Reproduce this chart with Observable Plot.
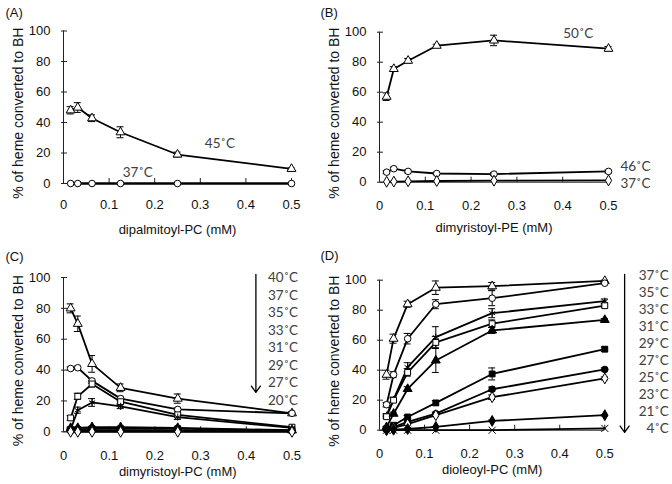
<!DOCTYPE html>
<html><head><meta charset="utf-8">
<script src="https://cdn.jsdelivr.net/npm/d3@7"></script>
<script src="https://cdn.jsdelivr.net/npm/@observablehq/plot@0.6"></script>
<style>
html,body{margin:0;padding:0;background:#fff;}
#chart{position:relative;width:672px;height:484px;overflow:hidden;background:#fff;}
#chart > div{position:absolute;}
#chart svg{overflow:visible;background:transparent;}
</style></head><body><div id="chart"></div>
<script>
// ---- data ----
const conc = [0.015625, 0.03125, 0.0625, 0.125, 0.25, 0.5];
const xTicks = [0, 0.1, 0.2, 0.3, 0.4, 0.5];
const yTicks = [0, 20, 40, 60, 80, 100];
const yTitle = "% of heme converted to BH";

// Panel A
const aTitle = "dipalmitoyl-PC (mM)";
const a45 = [48, 49.8, 42.8, 33.6, 19, 9.6];
const a45Err = [2.4, 3.2, 2.2, 3.6, 1.6, 0.6];
const a37 = [0, 0, 0, 0, 0, 0];
const a37Err = [0, 0, 0, 0, 0, 0];

// Panel B
const bTitle = "dimyristoyl-PE (mM)";
const b50 = [57, 75.5, 81, 91, 94.5, 89];
const b50Err = [2.5, 1.5, 1.5, 1, 3.5, 1.5];
const b46 = [6.7, 9, 7.2, 5.8, 5.4, 7.2];
const b46Err = [1, 1, 1, 0.8, 1, 1];
const b37 = [0.3, 0.4, 0.6, 0.8, 1, 1.2];
const b37Err = [0, 0, 0, 0, 0, 0];

// Panel C
const cTitle = "dimyristoyl-PC (mM)";
const cLabels = ["40˚C", "37˚C", "35˚C", "33˚C", "31˚C", "29˚C", "27˚C", "20˚C"];
const c40 = [80, 70, 44, 28.5, 21.5, 12];
const c40Err = [2.9, 5, 5.4, 2.5, 3, 1];
const c37 = [41, 41.5, 33, 21.5, 14.5, 12];
const c37Err = [1, 1, 1.5, 1.5, 1, 0.5];
const c35 = [9, 23, 31, 19.5, 11, 3];
const c35Err = [1.5, 2, 2, 1.5, 1, 0.5];
const c33 = [1.5, 14, 19, 16.5, 9.5, 2.5];
const c33Err = [1, 2, 2.5, 1.5, 1.5, 0.5];
const c31 = [2.5, 2.5, 3, 3, 2.5, 1];
const c31Err = [0.5, 0.5, 0.5, 0.5, 0.5, 0.3];
const c29 = [1.5, 1.5, 2, 2, 2, 0.8];
const c29Err = [0, 0, 0, 0, 0, 0];
const c27 = [0.5, 0.5, 1, 1, 1, 0.5];
const c27Err = [0, 0, 0, 0, 0, 0];
const c20 = [0, 0, 0, 0, 0, 0];
const c20Err = [0, 0, 0, 0, 0, 0];

// Panel D
const dTitle = "dioleoyl-PC (mM)";
const dLabels = ["37˚C", "35˚C", "33˚C", "31˚C", "29˚C", "27˚C", "25˚C", "23˚C", "21˚C", "4˚C"];
const d37 = [37, 61, 84, 95, 96, 99.5];
const d37Err = [3, 3, 2, 4.5, 2.5, 0.5];
const d35 = [17, 37, 61, 84, 88, 98];
const d35Err = [1.5, 2, 3.5, 3, 5, 0.5];
const d33 = [10, 20.5, 42, 62, 78, 86];
const d33Err = [1, 1.5, 3, 7, 3, 1.5];
const d31 = [9, 20, 38.5, 58.5, 71, 83];
const d31Err = [1, 1.5, 2.5, 4, 2.5, 1];
const d29 = [2, 11, 27.5, 46.5, 66.5, 73.5];
const d29Err = [0.5, 1, 1.5, 8, 2, 1];
const d27 = [1, 3.3, 8.8, 18.2, 37.5, 54];
const d27Err = [0.5, 0.5, 1, 1.5, 4, 1.5];
const d25 = [0.6, 2, 5.5, 11, 27.3, 40.5];
const d25Err = [0.3, 0.5, 0.8, 1, 1.5, 1];
const d23 = [0.5, 1.5, 4, 10, 22, 34.5];
const d23Err = [0.3, 0.5, 0.5, 1, 1.5, 1];
const d21 = [0, 0.3, 0.8, 2.2, 6.2, 10];
const d21Err = [0, 0, 0, 0.3, 0.5, 0.5];
const d4 = [0, 0, 0, 0, 0, 1.2];
const d4Err = [0, 0, 0, 0, 0, 0];

// ---- marker styles ----
const markers = {
  triangle: {symbol: "triangle", fill: "white"},
  circle: {symbol: "circle", fill: "white"},
  square: {symbol: "square", fill: "white"},
  asterisk: {symbol: "asterisk", fill: "none"},
  triangleF: {symbol: "triangle", fill: "black"},
  squareF: {symbol: "square", fill: "black"},
  circleF: {symbol: "circle", fill: "black"},
  diamond: {symbol: "diamond", fill: "white"},
  diamondF: {symbol: "diamond", fill: "black"},
  times: {symbol: "times", fill: "none"}
};

const sansFont = "'Liberation Sans', Arial, sans-serif";
const labelFont = "Lato, 'Open Sans', sans-serif";
const labelColor = "#404040";

function makePanel(cfg) {
  const {series, xTitle, tag, w, h, ml, mr, mt, mb, xPad, titleOff, tagDx, tagDy, extra} = cfg;
  const rows = series.flatMap(s => conc.map((x, i) => ({series: s.name, x, y: s.values[i], e: s.err[i]})));
  const errRows = rows.filter(d => d.e > 0);
  const marks = [
    Plot.axisY(yTicks, {tickSize: 0, tickPadding: 13, label: null, fontSize: 13, fill: "#111", tickFormat: d => String(d)}),
    Plot.axisX(xTicks, {tickSize: 0, tickPadding: xPad, label: null, fontSize: 13, fill: "#111", tickFormat: d => String(d)}),
    Plot.ruleX([0], {y1: () => 0, y2: () => 100, stroke: "#222"}),
    Plot.ruleY([0], {x1: () => 0, x2: () => 0.5, stroke: "#222"}),
    Plot.ruleY(yTicks, {y: d => d, x1: () => 0, x2: () => 0, insetLeft: -2, insetRight: -4, stroke: "#222"}),
    Plot.ruleX(xTicks.slice(1), {x: d => d, y1: () => 0, y2: () => 0, insetBottom: 5, stroke: "#222"}),
    Plot.ruleX(errRows, {x: "x", y1: d => d.y - d.e, y2: d => d.y + d.e, stroke: "black", strokeWidth: 1}),
    Plot.ruleY(errRows, {y: d => d.y + d.e, x1: "x", x2: "x", insetLeft: -3.5, insetRight: -3.5, stroke: "black"}),
    Plot.ruleY(errRows, {y: d => d.y - d.e, x1: "x", x2: "x", insetLeft: -3.5, insetRight: -3.5, stroke: "black"})
  ];
  for (const s of series) {
    marks.push(Plot.line(rows.filter(d => d.series === s.name), {x: "x", y: "y", stroke: "black", strokeWidth: s.lineWidth || 1.8}));
  }
  for (const s of series) {
    const m = markers[s.marker];
    marks.push(Plot.dot(rows.filter(d => d.series === s.name), {x: "x", y: "y", symbol: () => m.symbol, fill: m.fill, stroke: "black", strokeWidth: 1, r: 3.3}));
  }
  marks.push(
    Plot.text([xTitle], {frameAnchor: "bottom", dy: titleOff, lineAnchor: "top", fontSize: 13, fontFamily: sansFont, fill: "#111"}),
    Plot.text([yTitle], {frameAnchor: "left", textAnchor: "middle", rotate: -90, dx: -45, dy: 6, lineAnchor: "middle", fontSize: 14, fontFamily: sansFont, fill: "#111"}),
    Plot.text([tag], {frameAnchor: "top-left", dx: tagDx, dy: tagDy, textAnchor: "start", lineAnchor: "middle", fontSize: 13, fontFamily: sansFont, fill: "#111"}),
    ...extra
  );
  return Plot.plot({
    width: w, height: h,
    marginLeft: ml, marginRight: mr, marginTop: mt, marginBottom: mb,
    style: {fontFamily: sansFont, fontSize: "13px", background: "transparent", overflow: "visible"},
    x: {domain: [0, 0.5]},
    y: {domain: [0, 100]},
    symbol: {type: "identity"},
    marks
  });
}

const tempText = (label, opts) => Plot.text([label], {fontFamily: labelFont, fontSize: 13.5, fill: labelColor, ...opts});

const panels = [
  {
    left: 0, top: 0, w: 316, h: 242, ml: 63, mr: 25, mt: 30.5, mb: 59, xPad: 16, titleOff: 41,
    tag: "(A)", tagDx: -58, tagDy: -18.5, xTitle: aTitle,
    series: [
      {name: "45˚C", values: a45, err: a45Err, marker: "triangle"},
      {name: "37˚C", values: a37, err: a37Err, marker: "circle", lineWidth: 2.4}
    ],
    extra: [
      tempText("45˚C", {x: () => 0.343, y: () => 26}),
      tempText("37˚C", {x: () => 0.163, y: () => 7.4})
    ]
  },
  {
    left: 316, top: 0, w: 356, h: 242, ml: 63, mr: 64, mt: 31.7, mb: 60.3, xPad: 19, titleOff: 41,
    tag: "(B)", tagDx: -59, tagDy: -19.7, xTitle: bTitle,
    series: [
      {name: "50˚C", values: b50, err: b50Err, marker: "triangle"},
      {name: "46˚C", values: b46, err: b46Err, marker: "circle"},
      {name: "37˚C", values: b37, err: b37Err, marker: "diamond"}
    ],
    extra: [
      tempText("50˚C", {x: () => 0.434, y: () => 99}),
      tempText("46˚C", {x: () => 0.526, y: () => 10.5, textAnchor: "start"}),
      tempText("37˚C", {x: () => 0.526, y: () => -0.9, textAnchor: "start"})
    ]
  },
  {
    left: 0, top: 242, w: 316, h: 242, ml: 63, mr: 24.5, mt: 35, mb: 52.7, xPad: 19, titleOff: 35,
    tag: "(C)", tagDx: -58, tagDy: -21, xTitle: cTitle,
    series: [
      {name: "40˚C", values: c40, err: c40Err, marker: "triangle"},
      {name: "37˚C", values: c37, err: c37Err, marker: "circle"},
      {name: "35˚C", values: c35, err: c35Err, marker: "square"},
      {name: "33˚C", values: c33, err: c33Err, marker: "asterisk"},
      {name: "31˚C", values: c31, err: c31Err, marker: "triangleF"},
      {name: "29˚C", values: c29, err: c29Err, marker: "squareF"},
      {name: "27˚C", values: c27, err: c27Err, marker: "circleF"},
      {name: "20˚C", values: c20, err: c20Err, marker: "diamond"}
    ],
    extra: [
      tempText(cLabels.join("\n"), {frameAnchor: "top-right", dx: -24, dy: -8, textAnchor: "start", lineAnchor: "top", lineHeight: 1.3}),
      Plot.arrow([0], {x1: () => 0.421, y1: () => 102, x2: () => 0.421, y2: () => 25.5, stroke: "black", strokeWidth: 1.3, headLength: 9, headAngle: 70})
    ]
  },
  {
    left: 316, top: 242, w: 356, h: 242, ml: 63, mr: 67.7, mt: 37.7, mb: 54.3, xPad: 19, titleOff: 35,
    tag: "(D)", tagDx: -59, tagDy: -24.5, xTitle: dTitle,
    series: [
      {name: "37˚C", values: d37, err: d37Err, marker: "triangle"},
      {name: "35˚C", values: d35, err: d35Err, marker: "circle"},
      {name: "33˚C", values: d33, err: d33Err, marker: "asterisk"},
      {name: "31˚C", values: d31, err: d31Err, marker: "square"},
      {name: "29˚C", values: d29, err: d29Err, marker: "triangleF"},
      {name: "27˚C", values: d27, err: d27Err, marker: "squareF"},
      {name: "25˚C", values: d25, err: d25Err, marker: "circleF"},
      {name: "23˚C", values: d23, err: d23Err, marker: "diamond"},
      {name: "21˚C", values: d21, err: d21Err, marker: "diamondF"},
      {name: "4˚C", values: d4, err: d4Err, marker: "times"}
    ],
    extra: [
      tempText(dLabels.join("\n"), {frameAnchor: "top-right", dx: 64, dy: -12, textAnchor: "end", lineAnchor: "top", lineHeight: 1.26}),
      Plot.arrow([0], {x1: () => 0.544, y1: () => 103.8, x2: () => 0.544, y2: () => -1.5, stroke: "black", strokeWidth: 1.3, headLength: 9, headAngle: 70})
    ]
  }
];

const chart = document.getElementById("chart");
for (const p of panels) {
  const div = document.createElement("div");
  div.style.left = p.left + "px";
  div.style.top = p.top + "px";
  div.appendChild(makePanel(p));
  chart.appendChild(div);
}
</script></body></html>
